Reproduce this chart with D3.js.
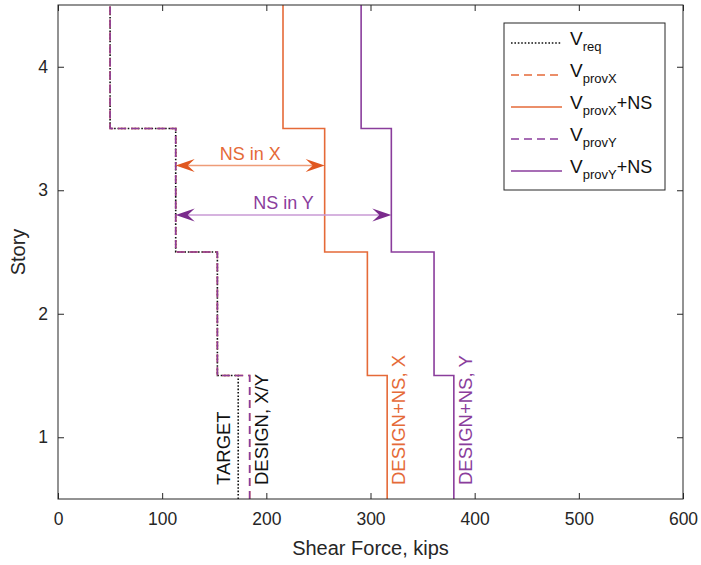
<!DOCTYPE html>
<html>
<head>
<meta charset="utf-8">
<script src="https://cdn.jsdelivr.net/npm/d3@7"></script>
<style>
  html, body { margin: 0; padding: 0; background: #fff; }
  svg { display: block; font-family: "Liberation Sans", Arial, sans-serif; }
</style>
</head>
<body>
<svg id="chart" width="701" height="565"></svg>
<script>
// Story shear demand and capacity (kips), listed from story 1 upward
const stories   = [1, 2, 3, 4];
const vReq      = [173, 153, 113, 50];
const vProvX    = [184, 153, 113, 50];
const vProvXNS  = [316, 297, 256, 216];
const vProvY    = [184, 153, 113, 50];
const vProvYNS  = [380, 361, 320, 291];

const xTicks = [0, 100, 200, 300, 400, 500, 600];
const yTicks = [1, 2, 3, 4];

const ORANGE = "#E56A38", PURPLE = "#8A3D9C";

const series = [
  { key: "req",    values: vReq,     color: "#111",  dash: "1.6,1.8", width: 1.6, main: "V", sub: "req",   tail: "" },
  { key: "provX",  values: vProvX,   color: ORANGE,  dash: "8,5",     width: 1.6, main: "V", sub: "provX", tail: "" },
  { key: "provXNS",values: vProvXNS, color: ORANGE,  dash: null,      width: 1.6, main: "V", sub: "provX", tail: "+NS" },
  { key: "provY",  values: vProvY,   color: PURPLE,  dash: "8,5",     width: 1.6, main: "V", sub: "provY", tail: "" },
  { key: "provYNS",values: vProvYNS, color: PURPLE,  dash: null,      width: 1.6, main: "V", sub: "provY", tail: "+NS" }
];

const margin = { left: 58, right: 18, top: 5, bottom: 66 };
const W = 701, H = 565;
const svg = d3.select("#chart");

const x = d3.scaleLinear().domain([0, 600]).range([margin.left, W - margin.right]);
const y = d3.scaleLinear().domain([0.5, 4.5]).range([H - margin.bottom, margin.top]);

const plot = svg.append("g");

// step profile: constant shear over each story height
function stepPoints(vals) {
  const pts = [];
  stories.forEach((s, i) => {
    pts.push([vals[i], s - 0.5]);
    pts.push([vals[i], s + 0.5]);
  });
  return pts;
}
const line = d3.line().x(d => x(d[0])).y(d => y(d[1]));

// draw order: demand first, then the capacities in legend order
const order = ["req", "provX", "provXNS", "provY", "provYNS"];
order.forEach(k => {
  const s = series.find(d => d.key === k);
  plot.append("path")
    .attr("d", line(stepPoints(s.values)))
    .attr("fill", "none")
    .attr("stroke", s.color)
    .attr("stroke-width", s.width)
    .attr("stroke-dasharray", s.dash);
});

// non-structural contribution arrows at story 3
const arrows = [
  { label: "NS in X", at: 3.2, from: vProvX[2], to: vProvXNS[2], line: "#EE9C78", head: "#E0571F", text: ORANGE },
  { label: "NS in Y", at: 2.8, from: vProvY[2], to: vProvYNS[2], line: "#C99AD4", head: "#7A2A8C", text: PURPLE }
];
function head(g, tipX, tipY, dir, color) {
  const L = 19, Wd = 13, N = 12;
  const p = `M${tipX},${tipY} L${tipX - dir * L},${tipY - Wd / 2} L${tipX - dir * N},${tipY} L${tipX - dir * L},${tipY + Wd / 2} Z`;
  g.append("path").attr("d", p).attr("fill", color);
}
arrows.forEach(a => {
  const g = plot.append("g");
  const x0 = x(a.from), x1 = x(a.to), yy = y(a.at);
  g.append("line").attr("x1", x0 + 10).attr("x2", x1 - 10).attr("y1", yy).attr("y2", yy)
    .attr("stroke", a.line).attr("stroke-width", 1.6);
  head(g, x0, yy, -1, a.head);
  head(g, x1, yy, 1, a.head);
  g.append("text").attr("x", (x0 + x1) / 2).attr("y", yy - 6)
    .attr("text-anchor", "middle").attr("font-size", 18).attr("fill", a.text).text(a.label);
});

// vertical labels beside the first-story values
const vLabels = [
  { text: "TARGET",       val: vReq[0],     dx: -8,  color: "#111" },
  { text: "DESIGN, X/Y",  val: vProvY[0],   dx: 18,  color: "#111" },
  { text: "DESIGN+NS, X", val: vProvXNS[0], dx: 18,  color: ORANGE },
  { text: "DESIGN+NS, Y", val: vProvYNS[0], dx: 18,  color: PURPLE }
];
vLabels.forEach(l => {
  const tx = x(l.val) + l.dx, ty = y(0.5) - 14;
  plot.append("text")
    .attr("transform", `translate(${tx},${ty}) rotate(-90)`)
    .attr("font-size", 18.5).attr("fill", l.color).text(l.text);
});

// axes box with inward ticks on all sides
const axColor = "#262626";
const frame = svg.append("g");
frame.append("rect")
  .attr("x", x(0)).attr("y", y(4.5))
  .attr("width", x(600) - x(0)).attr("height", y(0.5) - y(4.5))
  .attr("fill", "none").attr("stroke", axColor).attr("stroke-width", 1);

const tickLen = 6;
const fmt = d3.format("d");
const bottomAxis = d3.axisBottom(x).tickValues(xTicks).tickFormat(fmt).tickSizeInner(-tickLen).tickSizeOuter(0).tickPadding(14);
const leftAxis = d3.axisLeft(y).tickValues(yTicks).tickFormat(fmt).tickSizeInner(-tickLen).tickSizeOuter(0).tickPadding(10);
const topAxis = d3.axisTop(x).tickValues(xTicks).tickSizeInner(-tickLen).tickSizeOuter(0).tickFormat("");
const rightAxis = d3.axisRight(y).tickValues(yTicks).tickSizeInner(-tickLen).tickSizeOuter(0).tickFormat("");

function styleAxis(g) {
  g.select(".domain").remove();
  g.selectAll(".tick line").attr("stroke", axColor);
  g.selectAll(".tick text").attr("fill", axColor).attr("font-size", 17.5)
    .attr("font-family", "'Liberation Sans', Arial, sans-serif");
}
frame.append("g").attr("transform", `translate(0,${y(0.5)})`).call(bottomAxis).call(styleAxis);
frame.append("g").attr("transform", `translate(${x(0)},0)`).call(leftAxis).call(styleAxis);
frame.append("g").attr("transform", `translate(0,${y(4.5)})`).call(topAxis).call(styleAxis);
frame.append("g").attr("transform", `translate(${x(600)},0)`).call(rightAxis).call(styleAxis);

// axis titles
svg.append("text").attr("x", (x(0) + x(600)) / 2).attr("y", 555)
  .attr("text-anchor", "middle").attr("font-size", 20).attr("fill", axColor).text("Shear Force, kips");
svg.append("text").attr("transform", `translate(25,${(y(0.5) + y(4.5)) / 2}) rotate(-90)`)
  .attr("text-anchor", "middle").attr("font-size", 20).attr("fill", axColor).text("Story");

// legend
const lg = svg.append("g").attr("transform", "translate(504,23)");
lg.append("rect").attr("width", 161).attr("height", 167)
  .attr("fill", "#fff").attr("stroke", axColor).attr("stroke-width", 1);
series.forEach((s, i) => {
  const yy = 20 + i * 32;
  lg.append("line").attr("x1", 7).attr("x2", 58).attr("y1", yy).attr("y2", yy)
    .attr("stroke", s.color).attr("stroke-width", s.width).attr("stroke-dasharray", s.dash);
  const t = lg.append("text").attr("x", 66).attr("y", yy + 2).attr("font-size", 19).attr("fill", "#111");
  t.append("tspan").text(s.main);
  t.append("tspan").attr("font-size", 13).attr("dy", 6).text(s.sub);
  if (s.tail) t.append("tspan").attr("font-size", 18).attr("dy", -6).text(s.tail);
});
</script>
</body>
</html>
